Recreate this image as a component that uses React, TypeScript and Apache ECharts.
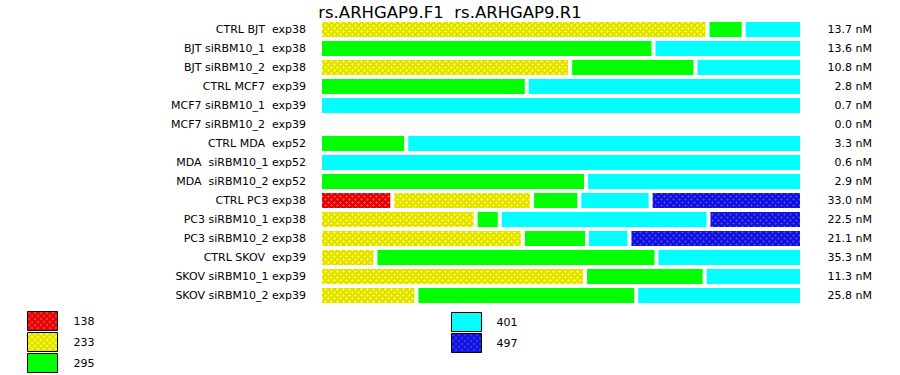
import React, { useEffect, useRef } from "react";
import * as echarts from "echarts";

const categories = [
  "CTRL BJT  exp38",
  "BJT siRBM10_1  exp38",
  "BJT siRBM10_2  exp38",
  "CTRL MCF7  exp39",
  "MCF7 siRBM10_1  exp39",
  "MCF7 siRBM10_2  exp39",
  "CTRL MDA  exp52",
  "MDA  siRBM10_1 exp52",
  "MDA  siRBM10_2 exp52",
  "CTRL PC3 exp38",
  "PC3 siRBM10_1 exp38",
  "PC3 siRBM10_2 exp38",
  "CTRL SKOV  exp39",
  "SKOV siRBM10_1 exp39",
  "SKOV siRBM10_2 exp39",
];

const concLabels = [
  "13.7 nM", "13.6 nM", "10.8 nM", "2.8 nM", "0.7 nM", "0.0 nM", "3.3 nM", "0.6 nM",
  "2.9 nM", "33.0 nM", "22.5 nM", "21.1 nM", "35.3 nM", "11.3 nM", "25.8 nM",
];

const seriesNames = ["138", "233", "295", "401", "497"];

const s138 = [0, 0, 0, 0, 0, 0, 0, 0, 0, 15.0, 0, 0, 0, 0, 0];
const s233 = [80.4, 0, 51.9, 0, 0, 0, 0, 0, 0, 29.0, 32.3, 42.1, 11.5, 55.0, 20.0];
const s295 = [7.5, 69.2, 26.0, 42.9, 0, 0, 17.9, 0, 55.2, 9.8, 5.0, 13.3, 58.3, 24.8, 45.6];
const s401 = [12.1, 30.8, 22.1, 57.1, 100, 0, 82.1, 100, 44.8, 14.8, 43.3, 8.8, 30.2, 20.2, 34.4];
const s497 = [0, 0, 0, 0, 0, 0, 0, 0, 0, 31.4, 19.4, 35.8, 0, 0, 0];

const FONT = "DejaVu Sans";

function makePattern(base: string, dot: string) {
  const c = document.createElement("canvas");
  c.width = 6;
  c.height = 6;
  const ctx = c.getContext("2d")!;
  ctx.fillStyle = base;
  ctx.fillRect(0, 0, 6, 6);
  ctx.fillStyle = dot;
  const plus = (x: number, y: number) => {
    const pts = [
      [x, y], [x - 1, y], [x + 1, y], [x, y - 1], [x, y + 1],
    ];
    for (const [px, py] of pts) {
      ctx.fillRect(((px % 6) + 6) % 6, ((py % 6) + 6) % 6, 1, 1);
    }
  };
  plus(1, 1);
  plus(4, 4);
  return { image: c.toDataURL(), repeat: "repeat", imageWidth: 6, imageHeight: 6 } as any;
}

export default function App() {
  const ref = useRef<HTMLDivElement>(null);
  useEffect(() => {
    document.body.style.margin = "0";
    const chart = echarts.init(ref.current!, null, { renderer: "svg" });
    const colors = [
      makePattern("#e00000", "#ff3a3a"),
      makePattern("#e0e000", "#ffff30"),
      "#00ff00",
      "#00ffff",
      makePattern("#1010d8", "#3a3aff"),
    ];
    const data = [s138, s233, s295, s401, s497];
    chart.setOption({
      animation: false,
      title: {
        text: "rs.ARHGAP9.F1  rs.ARHGAP9.R1",
        left: "center",
        top: 4,
        padding: 0,
        textStyle: { fontFamily: FONT, fontSize: 16.5, fontWeight: "normal", color: "#000", lineHeight: 16 },
      },
      grid: { left: 320, right: 98, top: 20, bottom: 70, containLabel: false },
      xAxis: { type: "value", min: 0, max: 100, show: false },
      yAxis: [
        {
          type: "category",
          data: categories,
          inverse: true,
          axisLine: { show: false },
          axisTick: { show: false },
          splitLine: { show: false },
          axisLabel: { fontFamily: FONT, fontSize: 11, color: "#000", margin: 14 },
        },
        {
          type: "category",
          data: concLabels,
          inverse: true,
          position: "right",
          axisLine: { show: false },
          axisTick: { show: false },
          splitLine: { show: false },
          axisLabel: { fontFamily: FONT, fontSize: 11, color: "#000", margin: 70, align: "right" },
        },
      ],
      legend: [
        {
          data: seriesNames.slice(0, 3),
          orient: "vertical",
          left: 27,
          top: 311,
          padding: 0,
          itemWidth: 30,
          itemHeight: 19,
          itemGap: 1,
          icon: "rect",
          selectedMode: false,
          itemStyle: { borderColor: "#000", borderWidth: 1 },
          textStyle: { fontFamily: FONT, fontSize: 11, color: "#000", padding: [0, 0, 0, 11] },
        },
        {
          data: seriesNames.slice(3),
          orient: "vertical",
          left: 451,
          top: 312,
          padding: 0,
          itemWidth: 30,
          itemHeight: 19,
          itemGap: 1,
          icon: "rect",
          selectedMode: false,
          itemStyle: { borderColor: "#000", borderWidth: 1 },
          textStyle: { fontFamily: FONT, fontSize: 11, color: "#000", padding: [0, 0, 0, 10] },
        },
      ],
      series: seriesNames.map((name, i) => ({
        name,
        type: "bar",
        stack: "total",
        barWidth: 19,
        yAxisIndex: 0,
        data: data[i].map((v) => (v === 0 ? null : v)),
        itemStyle: { color: colors[i], borderColor: "#fff", borderWidth: 2 },
        emphasis: { disabled: true },
      })),
    });
    return () => chart.dispose();
  }, []);
  return <div ref={ref} style={{ width: 900, height: 375 }} />;
}
